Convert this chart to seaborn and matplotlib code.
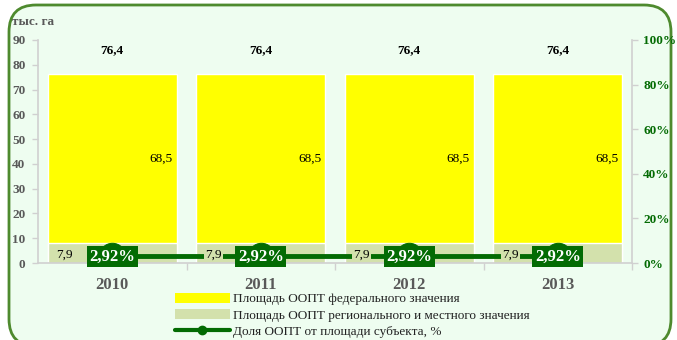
import matplotlib
matplotlib.use("Agg")
import matplotlib.pyplot as plt
from matplotlib.patches import FancyBboxPatch, Patch
from matplotlib.lines import Line2D
import seaborn as sns
import pandas as pd

years = ["2010", "2011", "2012", "2013"]
federal = [68.5, 68.5, 68.5, 68.5]
regional = [7.9, 7.9, 7.9, 7.9]
total = [76.4, 76.4, 76.4, 76.4]
share = [2.92, 2.92, 2.92, 2.92]
share_labels = ["2,92%", "2,92%", "2,92%", "2,92%"]
total_labels = ["76,4", "76,4", "76,4", "76,4"]
federal_labels = ["68,5", "68,5", "68,5", "68,5"]
regional_labels = ["7,9", "7,9", "7,9", "7,9"]

legend_names = [
    "Площадь ООПТ федерального значения",
    "Площадь ООПТ регионального и местного значения",
    "Доля ООПТ от площади субъекта, %",
]

BG = "#EEFDF0"
YELLOW = "#FFFF00"
LIGHT = "#D3E1AC"
DARK = "#036B03"
GRAY = "#595959"

sns.set_theme(style="white")
plt.rcParams["font.family"] = ["Liberation Serif", "DejaVu Serif"]

df = pd.DataFrame({"year": years, "total": total, "regional": regional, "share": share})

W, H = 677, 340
fig = plt.figure(figsize=(W / 100, H / 100), dpi=100)
fig.patch.set_facecolor("white")

# background layer in pixel units with the rounded green frame
bg = fig.add_axes([0, 0, 1, 1], zorder=-5)
bg.set_xlim(0, W)
bg.set_ylim(H, 0)
bg.axis("off")
bg.add_patch(FancyBboxPatch((9, 5), 662, 341,
                            boxstyle="round,pad=0,rounding_size=27",
                            facecolor=BG, edgecolor="#4E8A2E", linewidth=2.0))

ax = fig.add_axes([38 / W, 1 - 263 / H, (632 - 38) / W, (263 - 40) / H])
ax.set_facecolor("none")

sns.barplot(data=df, x="year", y="total", color=YELLOW, width=0.87,
            saturation=1, ax=ax, zorder=2)
sns.barplot(data=df, x="year", y="regional", color=LIGHT, width=0.87,
            saturation=1, ax=ax, zorder=2)

ax.set_ylim(0, 90)
ax.set_xlim(-0.5, 3.5)
ax.set_yticks(range(0, 91, 10))
ax.set_yticklabels([str(v) for v in range(0, 91, 10)], color=GRAY,
                   fontweight="bold", fontsize=9.5)
ax.tick_params(axis="y", length=4, color="#D0D0D0", width=1, left=True, pad=5)
ax.set_xticks(range(len(years)))
ax.set_xticklabels(years, color=GRAY, fontweight="bold", fontsize=12)
ax.set_xticks([0.5, 1.5, 2.5, 3.5], minor=True)
ax.tick_params(axis="x", which="major", length=0, pad=10)
ax.tick_params(axis="x", which="minor", length=5, color="#D0D0D0", width=1, bottom=True)
ax.set_xlabel("")
ax.set_ylabel("")
for s in ["top", "right"]:
    ax.spines[s].set_visible(False)
for s in ["left", "bottom"]:
    ax.spines[s].set_color("#D0D0D0")
    ax.spines[s].set_linewidth(1.2)

for i in range(len(years)):
    ax.text(i, total[i] + 9.5, total_labels[i], ha="center", va="center",
            fontsize=9.5, fontweight="bold", color="black", zorder=5)
    ax.text(i + 0.33, regional[i] + federal[i] / 2, federal_labels[i],
            ha="center", va="center", fontsize=9.5, color="black", zorder=5)

ax2 = ax.twinx()
ax2.set_ylim(0, 100)
sns.lineplot(data=df, x="year", y="share", ax=ax2, color=DARK, linewidth=3.5,
             marker="o", markersize=19, markeredgecolor=DARK, zorder=3)
ax2.set_xlim(-0.5, 3.5)
ax2.set_yticks(range(0, 101, 20))
ax2.set_yticklabels([f"{v}%" for v in range(0, 101, 20)], color=DARK,
                    fontweight="bold", fontsize=9.5)
ax2.tick_params(axis="y", length=4, color="#D0D0D0", width=1, right=True, pad=4)
ax2.set_ylabel("")
ax2.set_xlabel("")
for s in ["top", "left", "bottom"]:
    ax2.spines[s].set_visible(False)
ax2.spines["right"].set_color("#D0D0D0")
ax2.spines["right"].set_linewidth(1.2)

for i in range(len(years)):
    ax2.text(i - 0.32, 3.6, regional_labels[i],
             ha="center", va="center", fontsize=9.5, color="black", zorder=6,
             bbox=dict(boxstyle="square,pad=0.1", facecolor=LIGHT, edgecolor="none"))
    ax2.text(i, share[i], share_labels[i], ha="center", va="center",
             fontsize=12, fontweight="bold", color="white", zorder=7,
             bbox=dict(boxstyle="square,pad=0.15", facecolor=DARK, edgecolor="none"))

fig.text(12 / W, 1 - 22 / H, "тыс. га", color=GRAY, fontweight="bold",
         fontsize=9.5, ha="left", va="center")

handles = [
    Patch(facecolor=YELLOW, edgecolor="none"),
    Patch(facecolor=LIGHT, edgecolor="none"),
    Line2D([0], [0], color=DARK, linewidth=3, marker="o", markersize=6),
]
fig.legend(handles, legend_names, loc="upper left",
           bbox_to_anchor=(168 / W, 1 - 286 / H), frameon=False,
           fontsize=9.5, handlelength=4.2, handleheight=0.8, labelspacing=0.28,
           handletextpad=0.2, borderpad=0, labelcolor="#222222")

fig.savefig("out.png", dpi=100)
